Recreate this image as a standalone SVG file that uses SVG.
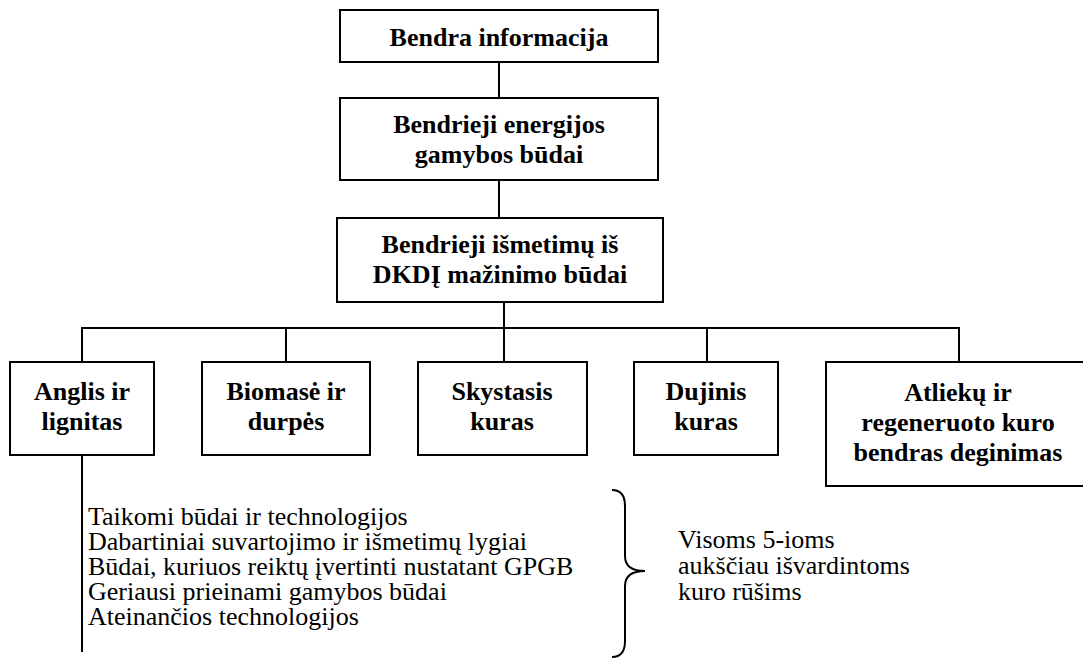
<svg xmlns="http://www.w3.org/2000/svg" width="1083" height="659" viewBox="0 0 1083 659">
  <style>
    .box { fill: #ffffff; stroke: #000000; stroke-width: 2; }
    .wire { fill: none; stroke: #000000; stroke-width: 2; }
    .lbl { font-size: 26px; font-weight: bold; fill: #000000; text-anchor: middle; }
    .note { font-size: 26px; fill: #000000; }
  </style>
  <rect width="1083" height="659" fill="#ffffff"/>

  <!-- connectors -->
  <g id="connectors" class="wire">
    <line x1="499" y1="62" x2="499" y2="98"/>
    <line x1="499" y1="180" x2="499" y2="218"/>
    <line x1="504" y1="302" x2="504" y2="362"/>
    <polyline points="82,362 82,328 959,328 959,362"/>
    <line x1="286" y1="328" x2="286" y2="362"/>
    <line x1="707" y1="328" x2="707" y2="362"/>
    <line x1="82" y1="455" x2="82" y2="652"/>
    <!-- brace grouping the list -->
    <path d="M612,490 C621,490 625,496 625,506 L625,556 C625,566 632,571 645,571 C632,571 625,576 625,586 L625,641 C625,651 621,657 612,657"/>
  </g>

  <g font-family="'Liberation Serif', 'DejaVu Serif', serif">
    <g id="n-general">
      <rect class="box" x="340" y="10" width="318" height="52"/>
      <text class="lbl" x="499" y="46">Bendra informacija</text>
    </g>

    <g id="n-production">
      <rect class="box" x="340" y="98" width="318" height="82"/>
      <text class="lbl" x="499" y="133">Bendrieji energijos</text>
      <text class="lbl" x="499" y="163">gamybos būdai</text>
    </g>

    <g id="n-reduction">
      <rect class="box" x="337" y="218" width="326" height="84"/>
      <text class="lbl" x="500" y="253">Bendrieji išmetimų iš</text>
      <text class="lbl" x="500" y="283">DKDĮ mažinimo būdai</text>
    </g>

    <g id="n-coal">
      <rect class="box" x="10" y="362" width="144" height="93"/>
      <text class="lbl" x="82" y="400">Anglis ir</text>
      <text class="lbl" x="82" y="430">lignitas</text>
    </g>

    <g id="n-biomass">
      <rect class="box" x="202" y="362" width="168" height="93"/>
      <text class="lbl" x="286" y="400">Biomasė ir</text>
      <text class="lbl" x="286" y="430">durpės</text>
    </g>

    <g id="n-liquid">
      <rect class="box" x="418" y="362" width="169" height="93"/>
      <text class="lbl" x="502" y="400">Skystasis</text>
      <text class="lbl" x="502" y="430">kuras</text>
    </g>

    <g id="n-gas">
      <rect class="box" x="634" y="362" width="144" height="93"/>
      <text class="lbl" x="706" y="400">Dujinis</text>
      <text class="lbl" x="706" y="430">kuras</text>
    </g>

    <g id="n-waste">
      <rect class="box" x="826" y="362" width="264" height="124"/>
      <text class="lbl" x="958" y="401">Atliekų ir</text>
      <text class="lbl" x="958" y="431">regeneruoto kuro</text>
      <text class="lbl" x="958" y="461">bendras deginimas</text>
    </g>

    <g id="topics">
      <text class="note" x="88" y="525">Taikomi būdai ir technologijos</text>
      <text class="note" x="88" y="550">Dabartiniai suvartojimo ir išmetimų lygiai</text>
      <text class="note" x="88" y="575">Būdai, kuriuos reiktų įvertinti nustatant GPGB</text>
      <text class="note" x="88" y="600">Geriausi prieinami gamybos būdai</text>
      <text class="note" x="88" y="625">Ateinančios technologijos</text>
    </g>

    <g id="scope">
      <text class="note" x="678" y="548">Visoms 5-ioms</text>
      <text class="note" x="678" y="574">aukščiau išvardintoms</text>
      <text class="note" x="678" y="600">kuro rūšims</text>
    </g>
  </g>
</svg>
